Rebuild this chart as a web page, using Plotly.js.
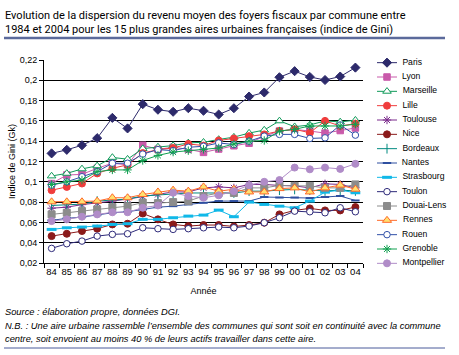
<!DOCTYPE html>
<html><head><meta charset="utf-8">
<script src="https://cdn.plot.ly/plotly-3.0.1.min.js"></script>
<style>html,body{margin:0;padding:0;background:#fff}#chart{width:459px;height:355px}</style>
</head><body><div id="chart"></div>
<script>
const years = ['84','85','86','87','88','89','90','91','92','93','94','95','96','97','98','99','00','01','02','03','04'];
const seriesNames = ['Paris','Lyon','Marseille','Lille','Toulouse','Nice','Bordeaux','Nantes','Strasbourg','Toulon','Douai-Lens','Rennes','Rouen','Grenoble','Montpellier'];
const paris = [0.128,0.1315,0.136,0.143,0.163,0.1526,0.1765,0.171,0.169,0.1725,0.170,0.1663,0.1725,0.184,0.188,0.203,0.209,0.2033,0.2003,0.2037,0.2125];
const lyon = [0.0983,0.1067,0.1073,0.1133,0.1183,0.1167,0.136,0.132,0.134,0.132,0.129,0.1323,0.1355,0.138,0.145,0.15,0.1516,0.15,0.148,0.1505,0.153];
const marseille = [0.1057,0.1083,0.1127,0.1157,0.124,0.1223,0.1327,0.1343,0.1357,0.1383,0.139,0.1417,0.144,0.148,0.151,0.16,0.1543,0.156,0.16,0.159,0.1607];
const lille = [0.0917,0.095,0.0983,0.1083,0.1133,0.1167,0.1283,0.1317,0.1333,0.1373,0.1357,0.1407,0.1427,0.145,0.1467,0.15,0.1517,0.1483,0.16,0.155,0.1573];
const toulouse = [0.074,0.075,0.0775,0.079,0.081,0.083,0.0855,0.0875,0.09,0.09,0.094,0.095,0.094,0.0974,0.0974,0.0964,0.096,0.094,0.098,0.0974,0.094];
const nice = [0.0465,0.0488,0.0515,0.0538,0.058,0.0587,0.0688,0.063,0.058,0.0564,0.0574,0.0574,0.056,0.0574,0.0597,0.0679,0.0718,0.0738,0.0718,0.0718,0.0751];
const bordeaux = [0.0767,0.077,0.078,0.081,0.082,0.083,0.086,0.087,0.088,0.089,0.089,0.089,0.089,0.0908,0.0908,0.0918,0.0925,0.0918,0.091,0.0918,0.091];
const nantes = [0.062,0.064,0.0652,0.0672,0.0695,0.0705,0.0728,0.075,0.076,0.0777,0.0793,0.081,0.081,0.081,0.085,0.0845,0.0845,0.084,0.085,0.086,0.0816];
const strasbourg = [0.0531,0.0547,0.0554,0.0564,0.058,0.0587,0.063,0.063,0.0646,0.0662,0.0672,0.0721,0.0656,0.080,0.0777,0.076,0.0744,0.081,0.0898,0.0918,0.0892];
const toulon = [0.0344,0.039,0.0416,0.0465,0.0482,0.0488,0.0547,0.0538,0.0531,0.0538,0.0547,0.0554,0.0547,0.0564,0.0597,0.0646,0.0711,0.0705,0.0695,0.0744,0.0705];
const douaiLens = [0.0679,0.0695,0.0711,0.0728,0.075,0.076,0.0795,0.079,0.08,0.081,0.086,0.089,0.089,0.094,0.094,0.0964,0.096,0.096,0.094,0.094,0.0974];
const rennes = [0.0803,0.0803,0.0803,0.081,0.0843,0.0843,0.0875,0.09,0.0918,0.0908,0.095,0.0907,0.0927,0.09,0.09,0.0933,0.094,0.09,0.094,0.0967,0.0927];
const rouen = [0.0967,0.1,0.105,0.11,0.1183,0.1183,0.1273,0.1317,0.1307,0.134,0.135,0.1383,0.1367,0.14,0.145,0.1467,0.1467,0.1427,0.1433,0.156,0.146];
const grenoble = [0.0973,0.1,0.1017,0.11,0.1117,0.1117,0.121,0.126,0.1293,0.1307,0.132,0.1333,0.1373,0.14,0.1407,0.15,0.1517,0.155,0.155,0.155,0.1567];
const montpellier = [0.0613,0.063,0.0656,0.0679,0.07,0.07,0.0744,0.0767,0.0892,0.0859,0.0843,0.0867,0.0907,0.0967,0.10,0.1017,0.114,0.1123,0.114,0.1127,0.1177];
const seriesValues = [paris,lyon,marseille,lille,toulouse,nice,bordeaux,nantes,strasbourg,toulon,douaiLens,rennes,rouen,grenoble,montpellier];

const styles = [
  {c:'#2d2a6b', sym:'diamond', size:7, fill:'#2d2a6b'},
  {c:'#c95aaa', sym:'square', size:6.5, fill:'#c95aaa'},
  {c:'#109a5a', sym:'triangle-up', size:7.5, fill:'#ffffff'},
  {c:'#f03c3c', sym:'circle', size:7, fill:'#f03c3c'},
  {c:'#7b2a8c', sym:'asterisk-open', size:7, fill:'#7b2a8c'},
  {c:'#8b1a1a', sym:'circle', size:7, fill:'#8b1a1a'},
  {c:'#008a80', sym:'line-ns-open', size:7, fill:'#008a80'},
  {c:'#2e4fa0', sym:'line-ew-open', size:6, fill:'#2e4fa0', lw:2},
  {c:'#10b8e8', sym:'line-ew-open', size:7, fill:'#10b8e8', lw:3},
  {c:'#2e2a7a', sym:'circle', size:6.5, fill:'#ffffff'},
  {c:'#8c8c8c', sym:'square', size:7, fill:'#8c8c8c'},
  {c:'#ff6a2a', sym:'triangle-up', size:8, fill:'#ffe070'},
  {c:'#3050a8', sym:'circle', size:6.5, fill:'#ffffff'},
  {c:'#10a050', sym:'asterisk-open', size:7, fill:'#10a050'},
  {c:'#b08cc8', sym:'circle', size:7, fill:'#b08cc8'}
];

const W = 459, H = 355;
const px = v => v / W;
const py = v => 1 - v / H;

const traces = [];
seriesNames.forEach((name, i) => {
  const s = styles[i];
  traces.push({
    x: years, y: seriesValues[i], type: 'scatter', mode: 'lines+markers', name: name,
    line: {color: s.c, width: 1},
    marker: {symbol: s.sym, size: s.size, color: s.fill, line: {color: s.c, width: s.lw || 1}},
    xaxis: 'x', yaxis: 'y', showlegend: false, cliponaxis: false
  });
});
// legend drawn in its own small subplot
seriesNames.forEach((name, i) => {
  const s = styles[i];
  traces.push({
    x: [2, 12, 22], y: [i, i, i], type: 'scatter', mode: 'lines+markers+text',
    text: ['', '', name], textposition: 'middle right',
    textfont: {family: 'Arial, Liberation Sans, sans-serif', size: 8.6, color: '#000'},
    line: {color: s.c, width: 1},
    marker: {symbol: s.sym, size: s.size, color: s.fill, opacity: [0, 1, 0], line: {color: s.c, width: s.lw || 1}},
    xaxis: 'x2', yaxis: 'y2', showlegend: false, hoverinfo: 'skip', cliponaxis: false
  });
});

const layout = {
  width: W, height: H, margin: {l: 0, r: 0, t: 0, b: 0},
  paper_bgcolor: '#fff', plot_bgcolor: '#fff',
  separators: ', ',
  showlegend: false,
  font: {family: 'Arial, Liberation Sans, sans-serif', size: 9, color: '#000'},
  title: {
    text: 'Evolution de la dispersion du revenu moyen des foyers fiscaux par commune entre<br>1984 et 2004 pour les 15 plus grandes aires urbaines françaises (indice de Gini)',
    x: px(5), xanchor: 'left', xref: 'paper', y: py(19), yanchor: 'top', yref: 'paper',
    font: {family: 'Roboto, sans-serif', size: 11, color: '#000'}
  },
  xaxis: {
    domain: [px(44), px(363)], type: 'category', range: [-0.5, 20.5], tickson: 'boundaries',
    ticks: 'outside', ticklen: 4, tickcolor: '#000', showline: true, linecolor: '#000', linewidth: 1,
    showgrid: false, zeroline: false, tickangle: 0, tickfont: {size: 9.5},
    title: {text: 'Année', font: {size: 9}, standoff: 11}, anchor: 'y'
  },
  yaxis: {
    domain: [py(263), py(60)], range: [0.02, 0.22], tick0: 0.02, dtick: 0.02,
    showgrid: true, gridcolor: '#000', gridwidth: 1, showline: true, linecolor: '#000', linewidth: 1,
    ticks: 'outside', ticklen: 4, tickcolor: '#000', zeroline: false, tickfont: {size: 9},
    title: {text: 'Indice de Gini (Gk)', font: {size: 9}, standoff: 2}, anchor: 'x'
  },
  xaxis2: {domain: [px(375), 1], range: [0, 84], visible: false, anchor: 'y2', fixedrange: true},
  yaxis2: {domain: [py(270.5), py(55.5)], range: [14.5, -0.5], visible: false, anchor: 'x2', fixedrange: true},
  shapes: [
    {type: 'line', xref: 'paper', yref: 'paper', x0: px(4), x1: px(445), y0: py(38), y1: py(38), line: {color: '#5b6a9b', width: 2.5}},
    {type: 'line', xref: 'paper', yref: 'paper', x0: px(4), x1: px(445), y0: py(348), y1: py(348), line: {color: '#4a5a9a', width: 1}}
  ],
  annotations: [
    {xref: 'paper', yref: 'paper', x: px(3), y: py(312), xanchor: 'left', yanchor: 'middle', showarrow: false,
     text: '<i>Source : élaboration propre, données DGI.</i>', font: {size: 9.3}},
    {xref: 'paper', yref: 'paper', x: px(3), y: py(326), xanchor: 'left', yanchor: 'middle', showarrow: false,
     text: '<i>N.B. : Une aire urbaine rassemble l’ensemble des communes qui sont soit en continuité avec la commune</i>', font: {size: 9.3}},
    {xref: 'paper', yref: 'paper', x: px(3), y: py(339), xanchor: 'left', yanchor: 'middle', showarrow: false,
     text: '<i>centre, soit envoient au moins 40 % de leurs actifs travailler dans cette aire.</i>', font: {size: 9.3}}
  ]
};

Plotly.newPlot('chart', traces, layout, {displayModeBar: false, staticPlot: true});
</script>
</body></html>
